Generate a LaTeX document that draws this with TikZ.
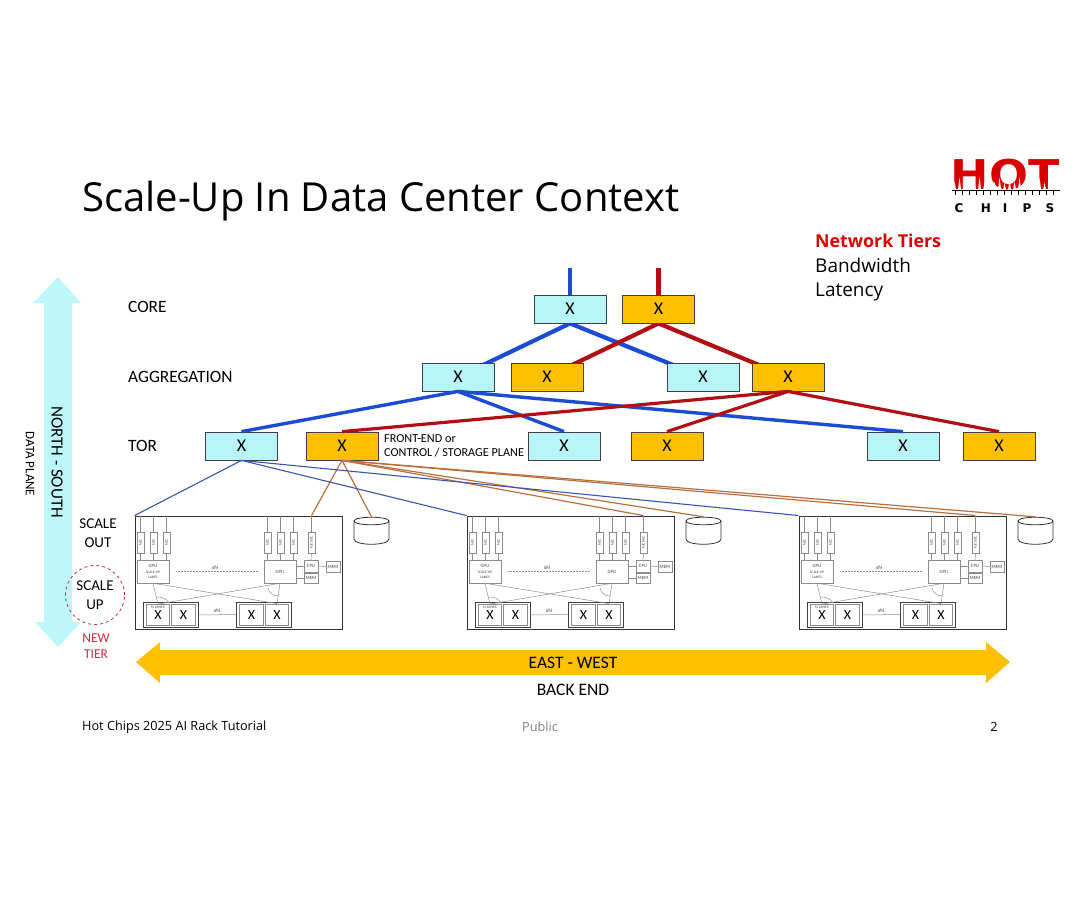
\documentclass[tikz,border=0pt]{standalone}
\usepackage{fontspec}
\setmainfont{Carlito}
\newfontfamily\titlefont{Open Sans}
\newfontfamily\logofont{DejaVu Sans}
\definecolor{swcyan}{RGB}{184, 245, 248}
\definecolor{swgold}{RGB}{255, 192, 0}
\definecolor{trunkblue}{RGB}{28, 76, 214}
\definecolor{trunkred}{RGB}{176, 16, 20}
\definecolor{linkblue}{RGB}{58, 84, 178}
\definecolor{linkbrown}{RGB}{186, 112, 62}
\definecolor{podgrey}{RGB}{140, 140, 140}
\definecolor{tierred}{RGB}{190, 50, 65}
\definecolor{arrowcyan}{RGB}{190, 247, 250}
\usetikzlibrary{backgrounds}

\begin{document}
\begin{tikzpicture}[
    x=1pt, y=-1pt,
    sw/.style={draw=black!75, line width=0.8pt, minimum width=72, minimum height=28, inner sep=0, font=\fontsize{18}{18}\selectfont},
    swa/.style={sw, fill=swcyan},
    swb/.style={sw, fill=swgold},
    tier/.style={anchor=west, inner sep=0, font=\fontsize{17.3}{17.3}\selectfont},
    side/.style={inner sep=0, align=center, font=\fontsize{15}{19}\selectfont},
    trunka/.style={trunkblue, line width=3.4pt},
    trunkb/.style={trunkred, line width=3.2pt},
    linka/.style={linkblue, line width=1.1pt},
    linkb/.style={linkbrown, line width=1.2pt},
    wire/.style={podgrey, line width=0.5pt},
    nic/.style={draw=podgrey, line width=0.5pt, fill=white, minimum width=6.5, minimum height=21, inner sep=0},
    nictext/.style={rotate=90, text=black!70, font=\fontsize{4.2}{4.2}\selectfont},
    chip/.style={draw=podgrey, line width=0.5pt, fill=white, inner sep=0, align=center, text=black!75, font=\fontsize{4.8}{5}\selectfont},
    xbox/.style={draw=podgrey, line width=0.9pt, fill=white, minimum width=23.5, minimum height=21, inner sep=0, font=\fontsize{14}{14}\selectfont},
    xgroup/.style={draw=black!75, line width=0.9pt, minimum width=55, minimum height=25, inner sep=0},
    small/.style={inner sep=0, text=black!75, font=\fontsize{5.5}{5.5}\selectfont},
    disk/.style={minimum width=35, minimum height=27, inner sep=0},
    foot/.style={inner sep=0, font=\titlefont\fontsize{12.7}{12.7}\selectfont},
    info/.style={anchor=base west, inner sep=0, font=\titlefont\fontsize{19}{19}\selectfont}
]
    \useasboundingbox (0,0) rectangle (1080,903);

    \node[anchor=base west, inner sep=0, font=\titlefont\fontsize{40}{40}\selectfont] (title) at (82,211) {Scale-Up In Data Center Context};

    \node[inner sep=0, text=red!85!black, xscale=1.12, font=\logofont\bfseries\fontsize{41}{41}\selectfont] (logo) at (1005,175) {HOT};
    \foreach \x/\h in {953/9,958/13,963/8,968/12,973/9,978/13,983/8,988/12,993/9,998/13,1003/8,1008/12,1013/9,1018/13,1023/8,1028/12,1033/9,1038/13,1043/8,1048/12,1053/9}
        \fill[white] (\x,190.5) -- (\x+1.5,190.5-\h) -- (\x+3.2,190.5) -- cycle;
    \draw[black, line width=1.4pt] (952,190.5) -- (1060,190.5);
    \foreach \x in {955,962,...,1059}
        \draw[black, line width=0.5pt] (\x,190.5) -- (\x,195);
    \foreach \x/\c in {959/C,986/H,1005/I,1027/P,1050/S}
        \node[inner sep=0, font=\logofont\bfseries\fontsize{12}{12}\selectfont] (logo\c) at (\x,208) {\c};

    \node[info, text=red!85!black, font=\titlefont\bfseries\fontsize{17.8}{17.8}\selectfont] (nettiers) at (815,247.5) {Network Tiers};
    \node[info] (bandwidth) at (815,272) {Bandwidth};
    \node[info] (latency) at (815,296) {Latency};

    \fill[arrowcyan] (58,277) -- (81,303) -- (72,303) -- (72,622) -- (81,622) -- (58,647) -- (35,622) -- (44,622) -- (44,303) -- (33,303) -- cycle;
    \node[rotate=-90, inner sep=0, font=\fontsize{17}{17}\selectfont] (northsouth) at (57,462) {NORTH - SOUTH};
    \node[rotate=-90, inner sep=0, font=\fontsize{13}{13}\selectfont] (dataplane) at (30,464) {DATA PLANE};
    \fill[swgold] (136,662) -- (160,642) -- (160,650) -- (986,650) -- (986,642) -- (1010,662) -- (986,683) -- (986,675) -- (160,675) -- (160,683) -- cycle;
    \node[inner sep=0, font=\fontsize{17.5}{17.5}\selectfont] (eastwest) at (573,663) {EAST - WEST};
    \node[inner sep=0, font=\fontsize{17.5}{17.5}\selectfont] (backend) at (573,690) {BACK END};

    \node[tier] (lblcore) at (128,307) {CORE};
    \node[tier] (lblagg) at (128,377) {AGGREGATION};
    \node[tier] (lbltor) at (128,446) {TOR};
    \node[side] (scaleout) at (98,533.5) {SCALE\\OUT};
    \node[side, draw=tierred, dashed, line width=0.8pt, circle, minimum size=59] (scaleup) at (95,595) {SCALE\\UP};
    \node[inner sep=0, align=center, text=tierred, font=\fontsize{13.5}{15.5}\selectfont] (newtier) at (96,646) {NEW\\TIER};

    \node[swa] (core1) at (570,309) {X};
    \node[swb] (core2) at (658.5,309) {X};
    \node[swa] (agg1) at (458,377) {X};
    \node[swb] (agg2) at (547,377) {X};
    \node[swa] (agg3) at (703,377) {X};
    \node[swb] (agg4) at (788,377) {X};
    \node[swa] (tor1) at (241.5,446) {X};
    \node[swb] (tor2) at (342,446) {X};
    \node[swa] (tor3) at (564,446) {X};
    \node[swb] (tor4) at (667,446) {X};
    \node[swa] (tor5) at (903,446) {X};
    \node[swb] (tor6) at (999,446) {X};
    \node[anchor=west, inner sep=0, align=left, font=\fontsize{12.2}{14.5}\selectfont] (frontend) at (384,446) {FRONT-END or\\CONTROL / STORAGE PLANE};

    \coordinate (uplinka) at (570,268);
    \coordinate (uplinkb) at (658.5,268);

    \foreach \i/\dx in {a/0,b/332,c/664} {
        \begin{scope}[xshift=\dx pt]
            \node[draw=black!80, line width=0.9pt, minimum width=207, minimum height=113, inner sep=0] (pod\i) at (238.5,572.5) {};
            \node[nic] (nic1\i) at (140.5,542.5) {};
            \node[nic] (nic2\i) at (153.5,542.5) {};
            \node[nic] (nic3\i) at (166.5,542.5) {};
            \node[nic] (nic4\i) at (267.5,542.5) {};
            \node[nic] (nic5\i) at (280.5,542.5) {};
            \node[nic] (nic6\i) at (293.5,542.5) {};
            \node[nic] (nic7\i) at (311.5,542.5) {};
            \foreach \n in {1,...,6}
                \node[nictext] at (nic\n\i) {NIC};
            \node[nictext] at (nic7\i) {F/E NIC};
            \node[chip, minimum width=32, minimum height=23] (gpua\i) at (153,571.5) {GPU\\[0.3pt]{\fontsize{3.6}{4}\selectfont SCALE-UP}\\{\fontsize{3.6}{4}\selectfont LANES}};
            \node[chip, minimum width=32, minimum height=23] (gpub\i) at (280,571.5) {GPU};
            \node[chip, minimum width=14, minimum height=11.5] (cpu\i) at (311,566) {CPU};
            \node[chip, minimum width=14, minimum height=10] (mema\i) at (311,578) {MEM};
            \node[chip, minimum width=14, minimum height=11] (memb\i) at (333,566.5) {MEM};
            \node[xgroup] (xga\i) at (170.5,615) {};
            \node[xgroup] (xgb\i) at (263.5,614.5) {};
            \node[xbox] (xa\i) at (158,615) {X};
            \node[xbox] (xb\i) at (183.5,615) {X};
            \node[xbox] (xc\i) at (251.5,614.5) {X};
            \node[xbox] (xd\i) at (277,614.5) {X};
            \node[small, font=\fontsize{3.8}{3.8}\selectfont] (lanes\i) at (158,607) {N LANES};
            \node[small] (xnup\i) at (215,567.5) {xN};
            \node[small] (xnlow\i) at (217,611) {xN};
            \foreach \n in {1,...,7}
                \draw[wire] (nic\n\i.north) -- (nic\n\i.north |- pod\i.north);
            \foreach \n in {1,2,3}
                \draw[wire] (nic\n\i.south) -- (nic\n\i.south |- gpua\i.north);
            \foreach \n in {4,5,6}
                \draw[wire] (nic\n\i.south) -- (nic\n\i.south |- gpub\i.north);
            \draw[wire] (nic7\i.south) -- (cpu\i.north);
            \draw[wire] (cpu\i.west) -- (cpu\i.west -| gpub\i.east);
            \draw[wire] (mema\i.west) -- (mema\i.west -| gpub\i.east);
            \draw[wire] (cpu\i) -- (memb\i);
            \draw[wire, densely dotted] (gpua\i.east) ++(7,0) -- ++(82,0);
            \draw[wire] (xga\i.east) -- (xgb\i.west);
            \draw[wire] (gpua\i.south) -- (xa\i.north);
            \draw[wire] (gpua\i.south) -- (xd\i.north);
            \draw[wire] (gpub\i.south) -- (xa\i.north);
            \draw[wire] (gpub\i.south) -- (xd\i.north);
            \draw[wire] (157,597) to[bend left=30] (169,603);
            \draw[wire] (268,588) to[bend right=40] (278,596);
            \node[disk] (disk\i) at (371.5,530.5) {};
            \draw[black!80, line width=0.8pt] (354,521) .. controls (354,516) and (389,516) .. (389,521) .. controls (389,526) and (354,526) .. (354,521) -- (354,539) .. controls (354,546) and (389,546) .. (389,539) -- (389,521);
        \end{scope}
    }

    \foreach \i in {a,b,c} {
        \draw[linka] (tor1.south) -- (pod\i.north west);
        \draw[linkb] (tor2.south) -- (nic7\i.north |- pod\i.north);
        \draw[linkb] (tor2.south) -- (disk\i.north);
    }

    \begin{pgfonlayer}{background}
        \draw[trunka, line width=4.2pt] (core1.south) -- (agg1.center);
        \draw[trunka, line width=4.2pt] (core1.south) -- (agg3.center);
        \draw[trunkb, line width=4.2pt] (core2.south) -- (agg2.center);
        \draw[trunkb, line width=4.2pt] (core2.south) -- (agg4.center);
    \end{pgfonlayer}
    \draw[trunka, line width=4.6pt] (uplinka) -- (core1.north);
    \draw[trunka] (agg1.south) -- (tor1.north);
    \draw[trunka] (agg1.south) -- (tor3.north);
    \draw[trunka] (agg1.south) -- (tor5.north);
    \draw[trunkb, line width=4.6pt] (uplinkb) -- (core2.north);
    \draw[trunkb] (agg4.south) -- (tor2.north);
    \draw[trunkb] (agg4.south) -- (tor4.north);
    \draw[trunkb] (agg4.south) -- (tor6.north);

    \node[foot, anchor=west] (footleft) at (82,727) {Hot Chips 2025 AI Rack Tutorial};
    \node[foot, text=black!50] (footmid) at (540,727) {Public};
    \node[foot] (footpage) at (994,727) {2};
\end{tikzpicture}
\end{document}
